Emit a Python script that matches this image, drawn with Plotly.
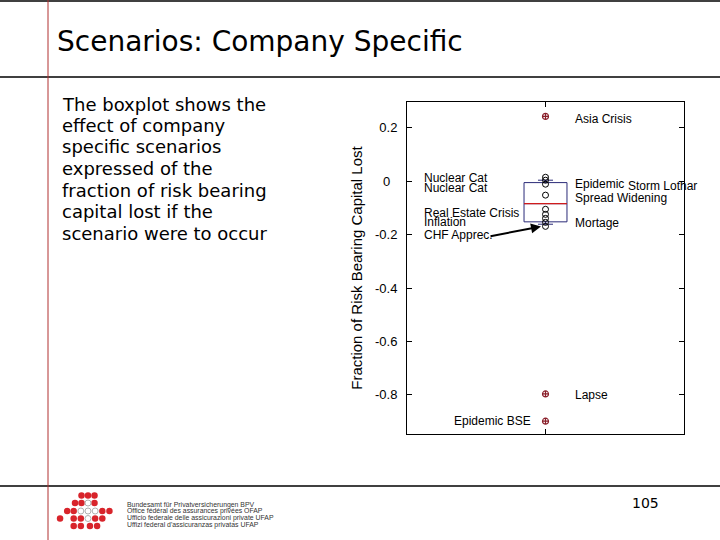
import plotly.graph_objects as go

W, H = 720, 540

# ---------------- data ----------------
scenario_names = ["Asia Crisis", "Nuclear Cat", "Storm Lothar", "Nuclear Cat", "Epidemic",
                  "Spread Widening", "Real Estate Crisis", "Inflation", "Mortage",
                  "CHF Apprec.", "Lapse", "Epidemic BSE"]
inner_values = [0.015, 0.004, -0.011, -0.052, -0.105, -0.124, -0.139, -0.154, -0.169]
outlier_names = ["Asia Crisis", "Lapse", "Epidemic BSE"]
outlier_values = [0.243, -0.797, -0.899]
box_q1 = [-0.152]
box_median = [-0.084]
box_q3 = [-0.005]
box_lower = [-0.161]
box_upper = [0.004]
y_tickvals = [-0.8, -0.6, -0.4, -0.2, 0.0, 0.2]
y_ticktext = ["-0.8", "-0.6", "-0.4", "-0.2", "0\u00a0\u00a0", "0.2"]

# ---------------- helpers ----------------
def px(x):
    return x / W

def py(y):
    return 1 - y / H

BOX_W = 0.155
FONT_A = "Liberation Sans, Arial, sans-serif"
FONT_V = "DejaVu Sans, Verdana, sans-serif"

fig = go.Figure()

fig.add_trace(go.Box(
    x=[0], q1=box_q1, median=box_median, q3=box_q3,
    lowerfence=box_lower, upperfence=box_upper,
    width=BOX_W, whiskerwidth=0.35, boxpoints=False,
    line=dict(color="#2a2a78", width=1), fillcolor="rgba(0,0,0,0)",
    showlegend=False, hoverinfo="skip"))

fig.add_trace(go.Scatter(
    x=[-BOX_W / 2, BOX_W / 2], y=[box_median[0], box_median[0]],
    mode="lines", line=dict(color="#d01c1c", width=1.2),
    showlegend=False, hoverinfo="skip"))

fig.add_trace(go.Scatter(
    x=[0] * len(inner_values), y=inner_values, mode="markers",
    marker=dict(symbol="circle-open", size=6, color="black", line=dict(width=1)),
    showlegend=False))

fig.add_trace(go.Scatter(
    x=[0] * len(outlier_values), y=outlier_values, mode="markers",
    text=outlier_names,
    marker=dict(symbol="circle-cross-open", size=6, color="#8a1f2a", line=dict(width=1.2)),
    showlegend=False))

# ---------------- logo (decoration) ----------------
logo_rows = [
    (495.5, [(-1, 1), (0, 1), (1, 1)]),
    (503.0, [(-2, 1), (-1, 1), (0, 0), (1, 1)]),
    (511.0, [(-3.2, 1), (-2.2, 1), (-1.1, 0), (0, 0), (1.1, 0), (2.2, 1), (3.3, 1)]),
    (518.5, [(-4.3, 1), (-2.2, 1), (-1.1, 1), (0, 0), (1.1, 1), (2.2, 1)]),
    (526.0, [(-2.2, 1), (-1.1, 1), (0.3, 1), (1.4, 1)]),
]
lx_red, ly_red, lx_w, ly_w = [], [], [], []
for yy, cells in logo_rows:
    for off, red in cells:
        xx = 88 + off * 6.5
        if red:
            lx_red.append(xx); ly_red.append(yy)
        else:
            lx_w.append(xx); ly_w.append(yy)
fig.add_trace(go.Scatter(x=lx_red, y=ly_red, xaxis="x2", yaxis="y2", mode="markers",
                         marker=dict(size=6.5, color="#d8242b"), showlegend=False, hoverinfo="skip"))
fig.add_trace(go.Scatter(x=lx_w, y=ly_w, xaxis="x2", yaxis="y2", mode="markers",
                         marker=dict(size=6, color="white", line=dict(color="#b0b0b0", width=1)),
                         showlegend=False, hoverinfo="skip"))

annotations = []

def text(x, y, s, size=12, font=FONT_A, xanchor="left", color="black"):
    annotations.append(dict(x=px(x), y=py(y), xref="paper", yref="paper", text=s,
                            showarrow=False, xanchor=xanchor, yanchor="middle",
                            font=dict(family=font, size=size, color=color)))

# title and body text
text(55, 41, "Scenarios: Company Specific", size=28, font=FONT_V)
body = ["The boxplot shows the", "effect of company", "specific scenarios",
        "expressed of the", "fraction of risk bearing", "capital lost if the",
        "scenario were to occur"]
for i, line in enumerate(body):
    text(60, 104 + i * 21.5, line, size=18, font=FONT_V)

# point labels
text(573, 119, "Asia Crisis")
text(422, 178, "Nuclear Cat")
text(422, 188, "Nuclear Cat")
text(573, 184, "Epidemic")
text(626, 186, "Storm Lothar")
text(573, 198, "Spread Widening")
text(422, 213, "Real Estate Crisis")
text(422, 222, "Inflation")
text(573, 223, "Mortage")
text(422, 235, "CHF Apprec.")
text(573, 395, "Lapse")
text(533, 421, "Epidemic BSE", xanchor="right")

# arrow
annotations.append(dict(x=px(541), y=py(226.5), xref="paper", yref="paper", ax=-52, ay=10,
                        text="", showarrow=True, arrowhead=2, arrowsize=1, arrowwidth=2,
                        arrowcolor="black"))

# page number & logo text
text(645, 503, "105", size=14, font=FONT_V, xanchor="center")
logo_text = ["Bundesamt für Privatversicherungen BPV",
             "Office fédéral des assurances privées OFAP",
             "Ufficio federale delle assicurazioni private UFAP",
             "Uffizi federal d'assicuranzas privatas UFAP"]
for i, line in enumerate(logo_text):
    text(125, 504.5 + i * 6.7, line, size=6.9, color="#333333")

shapes = [
    dict(type="line", xref="paper", yref="paper", x0=0, x1=1, y0=py(1), y1=py(1),
         line=dict(color="black", width=1.5)),
    dict(type="line", xref="paper", yref="paper", x0=0, x1=1, y0=py(77), y1=py(77),
         line=dict(color="black", width=1.5)),
    dict(type="line", xref="paper", yref="paper", x0=0, x1=1, y0=py(486), y1=py(486),
         line=dict(color="black", width=1.5)),
    dict(type="line", xref="paper", yref="paper", x0=px(48), x1=px(48), y0=0, y1=1,
         line=dict(color="#b03030", width=1)),
]

fig.update_layout(
    width=W, height=H, margin=dict(l=0, r=0, t=0, b=0),
    paper_bgcolor="white", plot_bgcolor="rgba(0,0,0,0)",
    showlegend=False,
    annotations=annotations, shapes=shapes,
    xaxis=dict(domain=[px(407), px(684)], range=[-0.5, 0.5], tickvals=[0],
               showticklabels=False, ticks="inside", ticklen=5, tickcolor="black",
               showline=True, linecolor="black", linewidth=1, mirror="ticks",
               showgrid=False, zeroline=False, fixedrange=True),
    yaxis=dict(domain=[py(434), py(102)], range=[-0.947, 0.297],
               tickvals=y_tickvals, ticktext=y_ticktext,
               ticks="inside", ticklen=5, tickcolor="black",
               tickfont=dict(family=FONT_A, size=13, color="black"),
               ticklabelstandoff=6,
               showline=True, linecolor="black", linewidth=1, mirror="ticks",
               showgrid=False, zeroline=False,
               title=dict(text="Fraction of Risk Bearing Capital Lost",
                          font=dict(family=FONT_A, size=15, color="black"), standoff=8)),
    xaxis2=dict(domain=[0, 1], range=[0, W], visible=False, anchor="y2"),
    yaxis2=dict(domain=[0, 1], range=[H, 0], visible=False, anchor="x2"),
)

fig.write_html("out.html", config={"displayModeBar": False},
               post_script="document.body.style.margin='0';document.body.style.overflow='hidden';")
